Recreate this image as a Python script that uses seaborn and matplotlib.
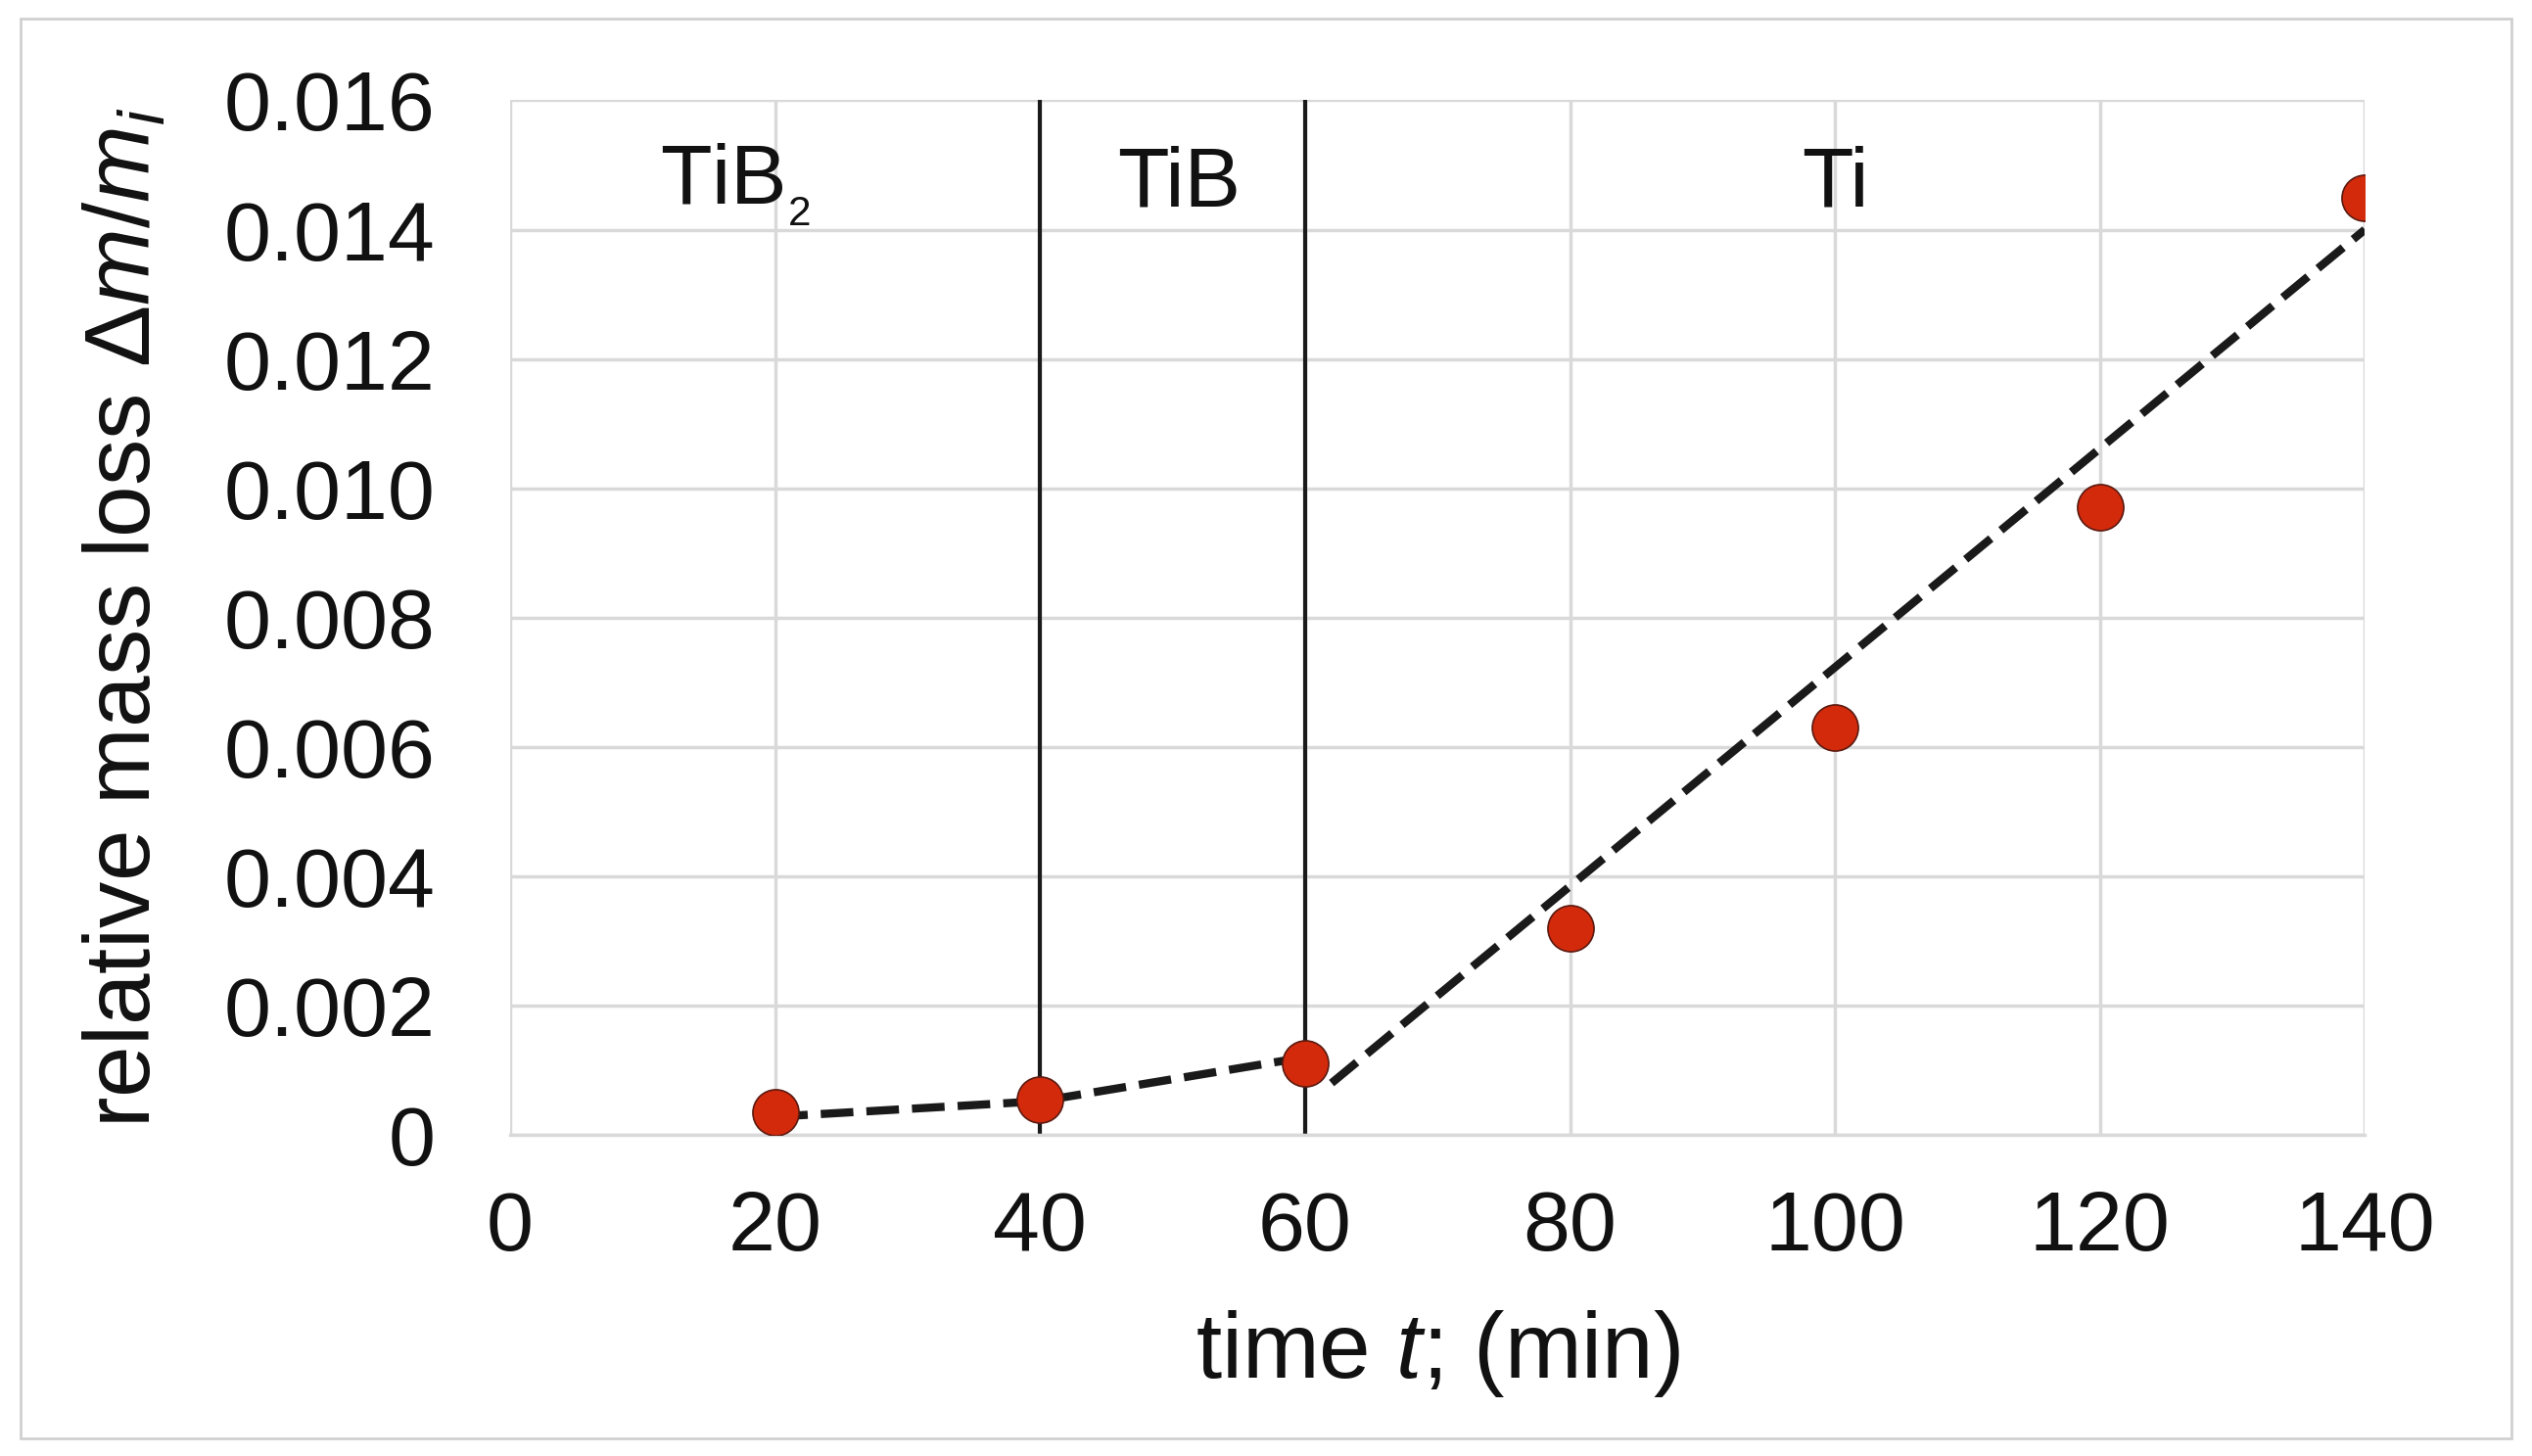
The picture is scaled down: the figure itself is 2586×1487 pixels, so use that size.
import matplotlib.pyplot as plt
import seaborn as sns
import pandas as pd

# measured points
time_min = [20, 40, 60, 80, 100, 120, 140]
mass_loss = [0.00035, 0.00055, 0.0011, 0.0032, 0.0063, 0.0097, 0.0145]

# dashed fit lines
fit1_t = [20, 40, 60]
fit1_y = [0.00028, 0.00052, 0.0012]
fit2_t = [62, 140]
fit2_y = [0.0008, 0.0140]

phase_bounds = [40, 60]
phase_labels = ['TiB$_{_2}$', 'TiB', 'Ti']
phase_label_x = [17, 50.5, 100]

sns.set_theme(style='whitegrid')
plt.rcParams['font.family'] = ['Liberation Sans', 'DejaVu Sans']
plt.rcParams['mathtext.fontset'] = 'custom'
plt.rcParams['mathtext.rm'] = 'Liberation Sans'
plt.rcParams['mathtext.it'] = 'Liberation Sans:italic'

fig = plt.figure(figsize=(25.86, 14.87), dpi=100)
ax = fig.add_axes([0.2015, 0.2206, 0.7325, 0.7105])

df = pd.DataFrame({'t': time_min, 'y': mass_loss})
ax.plot(fit1_t, fit1_y, ls=(0, (4, 1.6)), color='#1a1a1a', lw=6, zorder=2)
ax.plot(fit2_t, fit2_y, ls=(0, (4, 1.6)), color='#1a1a1a', lw=6, zorder=2)
sns.scatterplot(data=df, x='t', y='y', ax=ax, s=1150, color='#d42a0c',
                edgecolor='#5a1a10', linewidth=1.2, zorder=3)
for xb in phase_bounds:
    ax.axvline(xb, color='#1a1a1a', lw=3, zorder=2)
for lab, xl in zip(phase_labels, phase_label_x):
    ax.text(xl, 0.0147, lab, ha='center', va='center', fontsize=62, color='#111111')

ax.set_xlim(0, 140)
ax.set_ylim(0, 0.016)
ax.set_xticks(range(0, 141, 20))
ax.set_yticks([i * 0.002 for i in range(9)])
ax.set_yticklabels(['0'] + [f'{i * 0.002:.3f}' for i in range(1, 9)])
ax.tick_params(labelsize=62, colors='#111111', length=0)
ax.tick_params(axis='x', pad=40)
ax.tick_params(axis='y', pad=55)
ax.grid(color='#d9d9d9', lw=2.5)
ax.set_facecolor('white')
for s in ['top', 'right', 'left']:
    ax.spines[s].set_visible(False)
ax.spines['bottom'].set_color('#d9d9d9')
ax.spines['bottom'].set_linewidth(2.5)

ax.set_xlabel('time $t$; (min)', fontsize=68, color='#111111', labelpad=30)
ax.set_ylabel(r'relative mass loss $\Delta m/m_i$', fontsize=68, color='#111111', labelpad=40)

fig.patches.append(plt.Rectangle((0.008, 0.012), 0.984, 0.975, transform=fig.transFigure,
                                 fill=False, edgecolor='#d0d0d0', lw=2))
fig.savefig('out.png', dpi=100)
